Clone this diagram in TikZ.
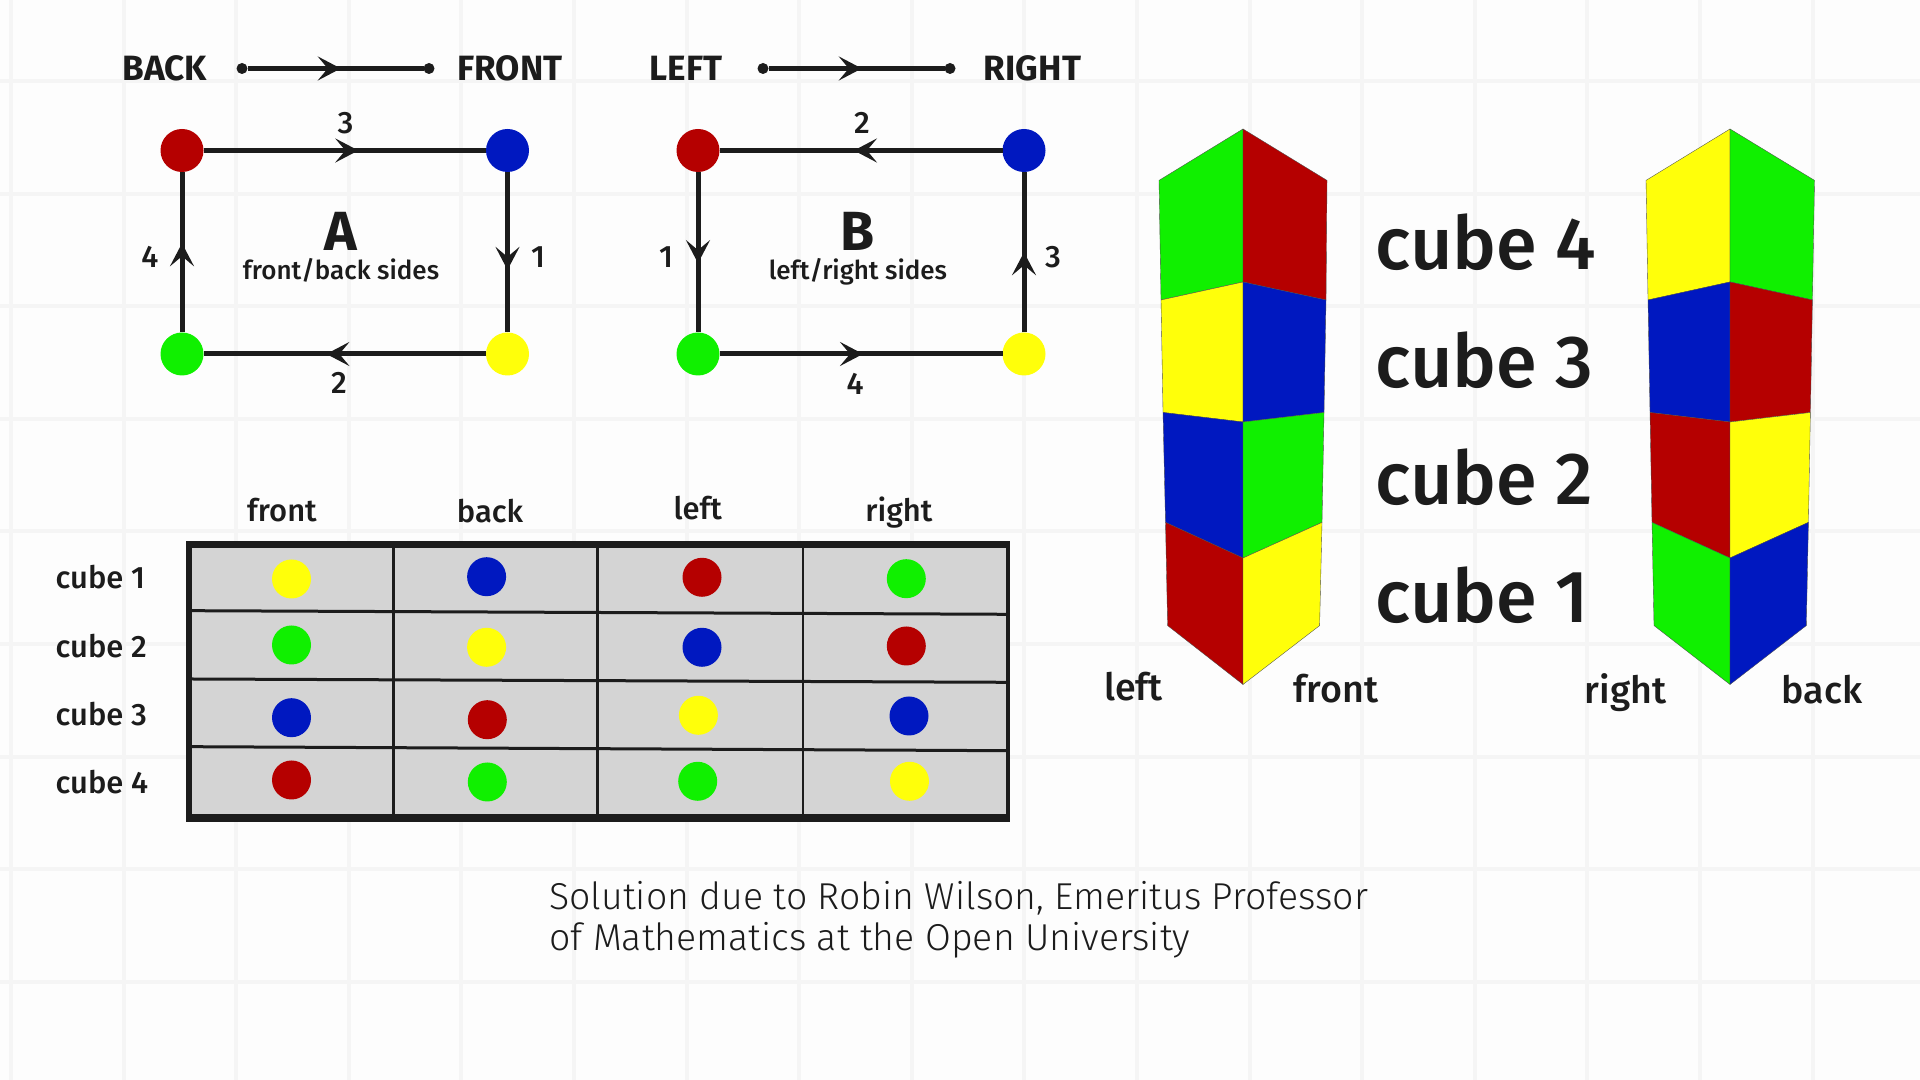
\documentclass[tikz,border=0pt]{standalone}
\usepackage{fontspec}
\setmainfont{Fira Sans}
\newfontfamily\medfont{Fira Sans Medium}
\newfontfamily\lightfont{Fira Sans Light}
\usetikzlibrary{arrows.meta,decorations.markings}
\definecolor{cred}{HTML}{B50000}
\definecolor{cblue}{HTML}{0018C0}
\definecolor{cgreen}{HTML}{10F000}
\definecolor{cyellow}{HTML}{FFFF0A}
\definecolor{cink}{HTML}{1C1C1C}
\definecolor{cgrid}{HTML}{F5F5F5}
\definecolor{cpaper}{HTML}{FDFDFD}
\tikzset{
	corner/.style={circle,minimum size=0.43cm,inner sep=0pt,outer sep=0pt},
	tdot/.style={circle,minimum size=0.39cm,inner sep=0pt,outer sep=0pt},
	pin/.style={circle,fill=cink,minimum size=0.11cm,inner sep=0pt,outer sep=0pt},
	edge/.style={cink,line width=0.05cm},
	tipat/.style={postaction={decorate,decoration={markings,mark=at position #1 with {\arrow[cink]{Stealth[length=2.3mm,width=2.4mm,inset=1mm]}}}}},
	face/.style={draw=black!70,line width=0.1pt},
	title/.style={font=\bfseries\fontsize{10}{12}\selectfont,text=cink,anchor=base},
	num/.style={font=\medfont\fontsize{8.8}{10}\selectfont,text=cink},
	small/.style={font=\medfont\fontsize{7.4}{9}\selectfont,text=cink,anchor=base,inner sep=0pt},
	big/.style={font=\medfont\fontsize{21}{24}\selectfont,text=cink,anchor=base west},
	tlabel/.style={font=\medfont\fontsize{8.8}{10}\selectfont,text=cink,anchor=base},
	slabel/.style={font=\medfont\fontsize{10.7}{12}\selectfont,text=cink,anchor=base},
}
\begin{document}
\begin{tikzpicture}
	\useasboundingbox (0,0) rectangle (19.2,10.8);
	\fill [cpaper] (0,0) rectangle (19.2,10.8);
	% grid
	\foreach \gx in {0,...,16}
		\draw [cgrid,line width=0.04cm] ({0.11+1.126*\gx},0) -- ({0.11+1.126*\gx},10.8);
	\foreach \gy in {0,...,8}
		\draw [cgrid,line width=0.04cm] (0,{9.99-1.126*\gy}) -- (19.2,{9.99-1.126*\gy});

	% top
	\node [title] (back) at (1.65,9.99) {BACK};
	\node [title] (front) at (5.10,9.99) {FRONT};
	\node [title] (left) at (6.86,9.99) {LEFT};
	\node [title] (right) at (10.325,9.99) {RIGHT};
	\node [pin] (p1) at (2.42,10.115) {};
	\node [pin] (p2) at (4.29,10.115) {};
	\node [pin] (p3) at (7.63,10.115) {};
	\node [pin] (p4) at (9.50,10.115) {};
	\draw [edge,tipat=0.53] (p1) -- (p2);
	\draw [edge,tipat=0.53] (p3) -- (p4);

	% A
	\node [corner,fill=cred] (ar) at (1.82,9.295) {};
	\node [corner,fill=cblue] (ab) at (5.075,9.295) {};
	\node [corner,fill=cgreen] (ag) at (1.82,7.26) {};
	\node [corner,fill=cyellow] (ay) at (5.075,7.26) {};
	\draw [edge,tipat=0.548] (ar) -- (ab);
	\draw [edge,tipat=0.61] (ab) -- (ay);
	\draw [edge,tipat=0.565] (ay) -- (ag);
	\draw [edge,tipat=0.556] (ag) -- (ar);
	% label
	\node [num] (a3) at (3.455,9.57) {3};
	\node [num] (a1) at (5.38,8.23) {1};
	\node [num] (a2) at (3.39,6.97) {2};
	\node [num] (a4) at (1.50,8.23) {4};
	\node [title,inner sep=0pt,font=\bfseries\fontsize{15.7}{18}\selectfont] (aname) at (3.41,8.29) {A};
	\node [small] (aside) at (3.41,8.007) {front/back sides};

	% B
	\node [corner,fill=cred] (br) at (6.98,9.295) {};
	\node [corner,fill=cblue] (bb) at (10.24,9.295) {};
	\node [corner,fill=cgreen] (bg) at (6.98,7.26) {};
	\node [corner,fill=cyellow] (by) at (10.24,7.26) {};
	\draw [edge,tipat=0.525] (bb) -- (br);
	\draw [edge,tipat=0.568] (br) -- (bg);
	\draw [edge,tipat=0.507] (bg) -- (by);
	\draw [edge,tipat=0.5] (by) -- (bb);
	% label
	\node [num] (b2) at (8.62,9.57) {2};
	\node [num] (b1) at (6.66,8.23) {1};
	\node [num] (b3) at (10.53,8.23) {3};
	\node [num] (b4) at (8.55,6.96) {4};
	\node [title,inner sep=0pt,font=\bfseries\fontsize{15.7}{18}\selectfont] (bname) at (8.58,8.29) {B};
	\node [small] (bside) at (8.58,8.007) {left/right sides};

	% table
	\fill [cink] (1.86,2.58) rectangle (10.10,5.39);
	\fill [black!17] (1.915,2.66) rectangle (10.06,5.32);
	\draw [cink,line width=0.025cm] (3.935,2.66) -- (3.935,5.32);
	\draw [cink,line width=0.025cm] (5.976,2.66) -- (5.976,5.32);
	\draw [cink,line width=0.025cm] (8.03,2.66) -- (8.03,5.32);
	\draw [cink,line width=0.03cm] (1.915,4.693) -- (10.06,4.657);
	\draw [cink,line width=0.03cm] (1.915,4.01) -- (10.06,3.977);
	\draw [cink,line width=0.03cm] (1.915,3.333) -- (10.06,3.293);
	% label
	\node [tlabel] (tfront) at (2.82,5.585) {front};
	\node [tlabel] (tback) at (4.90,5.578) {back};
	\node [tlabel] (tleft) at (6.977,5.605) {left};
	\node [tlabel] (tright) at (8.99,5.585) {right};
	\node [tlabel,anchor=base west,inner sep=0pt] (tc1) at (0.55,4.91) {cube 1};
	\node [tlabel,anchor=base west,inner sep=0pt] (tc2) at (0.55,4.223) {cube 2};
	\node [tlabel,anchor=base west,inner sep=0pt] (tc3) at (0.55,3.54) {cube 3};
	\node [tlabel,anchor=base west,inner sep=0pt] (tc4) at (0.55,2.867) {cube 4};
	% dots
	\node [tdot,fill=cyellow] (d11) at (2.915,5.01) {};
	\node [tdot,fill=cblue] (d12) at (4.866,5.033) {};
	\node [tdot,fill=cred] (d13) at (7.02,5.027) {};
	\node [tdot,fill=cgreen] (d14) at (9.063,5.013) {};
	\node [tdot,fill=cgreen] (d21) at (2.915,4.35) {};
	\node [tdot,fill=cyellow] (d22) at (4.866,4.327) {};
	\node [tdot,fill=cblue] (d23) at (7.02,4.327) {};
	\node [tdot,fill=cred] (d24) at (9.063,4.34) {};
	\node [tdot,fill=cblue] (d31) at (2.915,3.623) {};
	\node [tdot,fill=cred] (d32) at (4.873,3.603) {};
	\node [tdot,fill=cyellow] (d33) at (6.984,3.647) {};
	\node [tdot,fill=cblue] (d34) at (9.09,3.64) {};
	\node [tdot,fill=cred] (d41) at (2.915,3.0) {};
	\node [tdot,fill=cgreen] (d42) at (4.873,2.98) {};
	\node [tdot,fill=cgreen] (d43) at (6.977,2.987) {};
	\node [tdot,fill=cyellow] (d44) at (9.095,2.987) {};

	% left tower
	\filldraw [face,fill=cgreen] (11.59,8.996) -- (12.43,9.51) -- (12.43,7.98) -- (11.61,7.80) -- cycle;
	\filldraw [face,fill=cred] (13.27,8.996) -- (12.43,9.51) -- (12.43,7.98) -- (13.26,7.80) -- cycle;
	\filldraw [face,fill=cyellow] (11.61,7.80) -- (12.43,7.98) -- (12.43,6.58) -- (11.63,6.675) -- cycle;
	\filldraw [face,fill=cblue] (13.26,7.80) -- (12.43,7.98) -- (12.43,6.58) -- (13.24,6.675) -- cycle;
	\filldraw [face,fill=cblue] (11.63,6.675) -- (12.43,6.58) -- (12.43,5.22) -- (11.655,5.576) -- cycle;
	\filldraw [face,fill=cgreen] (13.24,6.675) -- (12.43,6.58) -- (12.43,5.22) -- (13.22,5.576) -- cycle;
	\filldraw [face,fill=cred] (11.655,5.576) -- (12.43,5.22) -- (12.43,3.955) -- (11.676,4.544) -- cycle;
	\filldraw [face,fill=cyellow] (13.22,5.576) -- (12.43,5.22) -- (12.43,3.955) -- (13.196,4.544) -- cycle;
	% right tower
	\filldraw [face,fill=cyellow] (16.46,8.996) -- (17.30,9.51) -- (17.30,7.98) -- (16.48,7.80) -- cycle;
	\filldraw [face,fill=cgreen] (18.145,8.996) -- (17.30,9.51) -- (17.30,7.98) -- (18.124,7.80) -- cycle;
	\filldraw [face,fill=cblue] (16.48,7.80) -- (17.30,7.98) -- (17.30,6.58) -- (16.50,6.675) -- cycle;
	\filldraw [face,fill=cred] (18.124,7.80) -- (17.30,7.98) -- (17.30,6.58) -- (18.104,6.675) -- cycle;
	\filldraw [face,fill=cred] (16.50,6.675) -- (17.30,6.58) -- (17.30,5.22) -- (16.52,5.576) -- cycle;
	\filldraw [face,fill=cyellow] (18.104,6.675) -- (17.30,6.58) -- (17.30,5.22) -- (18.084,5.576) -- cycle;
	\filldraw [face,fill=cgreen] (16.52,5.576) -- (17.30,5.22) -- (17.30,3.955) -- (16.54,4.544) -- cycle;
	\filldraw [face,fill=cblue] (18.084,5.576) -- (17.30,5.22) -- (17.30,3.955) -- (18.063,4.544) -- cycle;
	% label
	\node [big,inner sep=0pt] (c4) at (13.75,8.10) {cube 4};
	\node [big,inner sep=0pt] (c3) at (13.75,6.92) {cube 3};
	\node [big,inner sep=0pt] (c2) at (13.75,5.754) {cube 2};
	\node [big,inner sep=0pt] (c1) at (13.75,4.57) {cube 1};
	\node [slabel] (sleft) at (11.334,3.795) {left};
	\node [slabel] (sfront) at (13.36,3.775) {front};
	\node [slabel] (sright) at (16.257,3.768) {right};
	\node [slabel] (sback) at (18.22,3.768) {back};

	% credit
	\node [anchor=west,align=left,inner sep=0pt,text=cink,font=\lightfont\fontsize{10.65}{11.7}\selectfont] (credit) at (5.486,1.60) {Solution due to Robin Wilson, Emeritus Professor\\of Mathematics at the Open University};
\end{tikzpicture}
\end{document}
